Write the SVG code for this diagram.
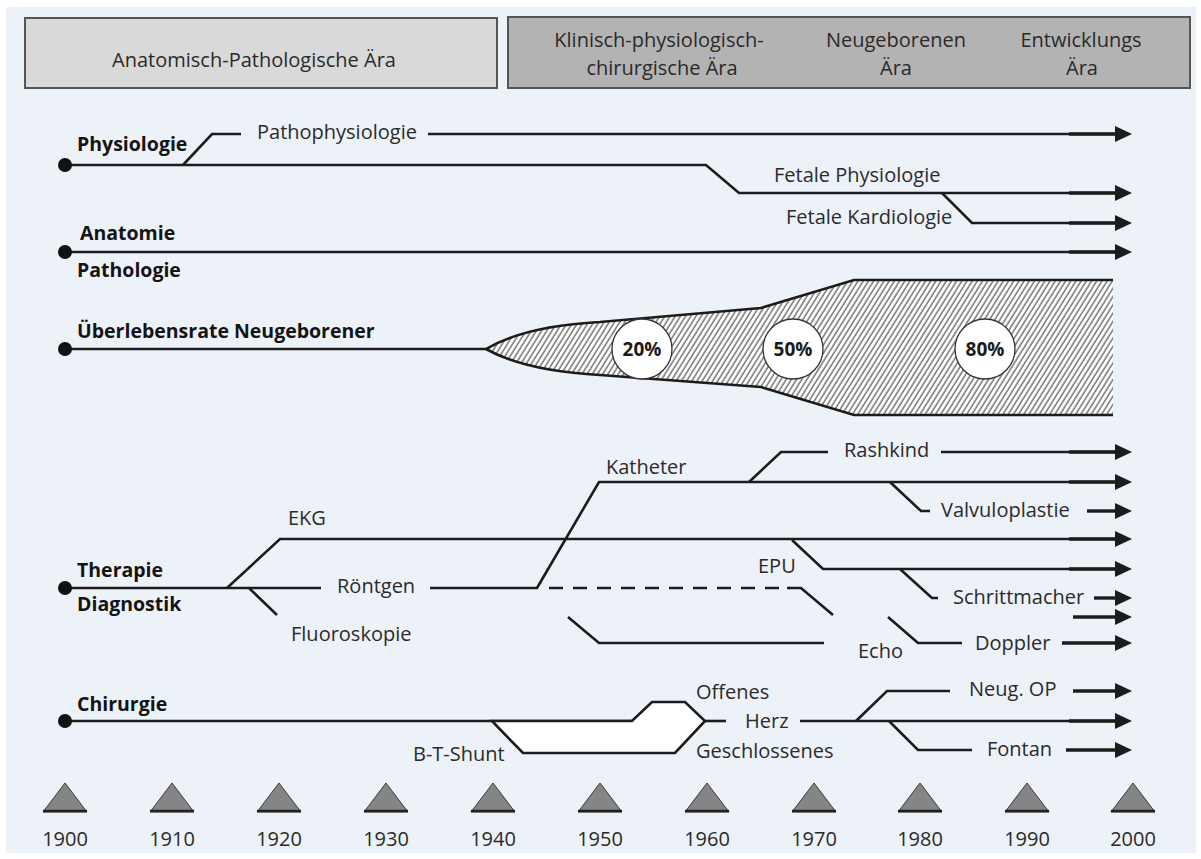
<svg xmlns="http://www.w3.org/2000/svg" width="1201" height="859" viewBox="0 0 1201 859">
<defs>
<style>
.bg{fill:#edf1f8}
.ln{fill:none;stroke:#1c1c1c;stroke-width:2.6;stroke-linejoin:miter}
.ar{fill:none;stroke:#1c1c1c;stroke-width:2.6;marker-end:url(#ah)}
.sa{fill:none;stroke:#1c1c1c;stroke-width:3.4;marker-end:url(#ah)}
.st{fill:none;stroke:#1c1c1c;stroke-width:3.6}
.ds{fill:none;stroke:#1c1c1c;stroke-width:2.6;stroke-dasharray:14 10}
.dot{fill:#111}
.t{font-family:"Open Sans","Noto Sans","Liberation Sans",sans-serif;font-size:20px;fill:#2b2b2b}
.b{font-family:"Open Sans","Noto Sans","Liberation Sans",sans-serif;font-size:19.5px;font-weight:700;fill:#141414}
.h{font-family:"Open Sans","Noto Sans","Liberation Sans",sans-serif;font-size:20px;fill:#2a2a2a;text-anchor:middle}
.p{font-family:"Open Sans","Noto Sans","Liberation Sans",sans-serif;font-size:19px;font-weight:700;fill:#1a1a1a;text-anchor:middle}
.y{font-family:"Open Sans","Noto Sans","Liberation Sans",sans-serif;font-size:20px;fill:#2a2a2a;text-anchor:middle}
.tri{fill:#858585;stroke:#3a3a3a;stroke-width:1}
.tb{stroke:#222;stroke-width:2.6}
.circ{fill:#fff;stroke:#333;stroke-width:1.3}
</style>
<marker id="ah" markerUnits="userSpaceOnUse" markerWidth="18" markerHeight="18" viewBox="0 -9 18 18" refX="0" refY="0" orient="auto">
<path d="M0,-8 L17,0 L0,8 Z" fill="#1c1c1c"/>
</marker>
<pattern id="hatch" patternUnits="userSpaceOnUse" width="4.4" height="10" patternTransform="rotate(32)">
<rect width="4.4" height="10" fill="#ffffff"/>
<line x1="1" y1="0" x2="1" y2="10" stroke="#555" stroke-width="1.2"/>
</pattern>
</defs>

<rect class="bg" x="6" y="7" width="1190" height="846"/>

<g id="header">
<g id="era-anatomisch">
<rect x="25" y="18" width="472" height="70" fill="#d9d9d9" stroke="#555" stroke-width="2"/>
<text class="h" x="254" y="67">Anatomisch-Pathologische Ära</text>
</g>
<g id="era-klinisch">
<rect x="508" y="17" width="682" height="71" fill="#b3b3b3" stroke="#555" stroke-width="2"/>
<text class="h" x="659" y="47">Klinisch-physiologisch-</text>
<text class="h" x="662" y="75">chirurgische Ära</text>
<text class="h" x="896" y="47">Neugeborenen</text>
<text class="h" x="896" y="75">Ära</text>
<text class="h" x="1081" y="47">Entwicklungs</text>
<text class="h" x="1082" y="75">Ära</text>
</g>
</g>

<g id="connectors">
<path class="ar" d="M65,165 H706 L739,193 H1115"/>
<path class="st" d="M1069,193 H1116"/>
<path class="ln" d="M183,165 L212,134 H241"/>
<path class="ar" d="M428,134 H1115"/>
<path class="st" d="M1069,134 H1116"/>
<path class="ar" d="M942,193 L972,223 H1115"/>
<path class="st" d="M1069,223 H1116"/>
<path class="ar" d="M65,252 H1115"/>
<path class="st" d="M1069,252 H1116"/>
<path class="ln" d="M65,349 H487"/>
<path class="ln" d="M65,588 H321"/>
<path class="ln" d="M430,588 H538"/>
<path class="ar" d="M227,588 L280,539 H1115"/>
<path class="st" d="M1069,539 H1116"/>
<path class="ln" d="M249,588 L277,615"/>
<path class="ds" d="M549,588 H790"/>
<path class="ln" d="M787,588 H801 L833,615"/>
<path class="ar" d="M537,588 L599,482 H1115"/>
<path class="st" d="M1069,482 H1116"/>
<path class="ln" d="M749,482 L781,452 H828"/>
<path class="ar" d="M941,452 H1115"/>
<path class="st" d="M1069,452 H1116"/>
<path class="ln" d="M890,482 L921,511 H930"/>
<path class="sa" d="M1087,511 H1115"/>
<path class="ar" d="M792,540 L823,569 H1115"/>
<path class="st" d="M1069,569 H1116"/>
<path class="ln" d="M900,569 L932,598 H938"/>
<path class="sa" d="M1094,598 H1115"/>
<path class="sa" d="M1073,617 H1115"/>
<path class="ln" d="M568,617 L599,643 H824"/>
<path class="ln" d="M888,617 L918,643 H962"/>
<path class="sa" d="M1062,643 H1115"/>
<path class="ln" d="M65,721 H632"/>
<path class="ln" d="M705,721 H726"/>
<path class="ar" d="M800,721 H1115"/>
<path class="st" d="M1069,721 H1116"/>
<path class="ln" d="M856,721 L887,691 H950"/>
<path class="sa" d="M1073,691 H1115"/>
<path class="ln" d="M889,721 L918,750 H972"/>
<path class="sa" d="M1066,750 H1115"/>
</g>

<g id="physiologie">
<circle class="dot" cx="65" cy="165" r="7"/>
<text class="b" x="77" y="151">Physiologie</text>
<text class="t" x="257" y="139">Pathophysiologie</text>
<text class="t" x="774" y="182">Fetale Physiologie</text>
<text class="t" x="786" y="224">Fetale Kardiologie</text>
</g>

<g id="anatomie">
<circle class="dot" cx="65" cy="252" r="7"/>
<text class="b" x="80" y="240">Anatomie</text>
<text class="b" x="77" y="277">Pathologie</text>
</g>

<g id="ueberlebensrate">
<circle class="dot" cx="65" cy="349" r="7"/>
<text class="b" x="77" y="338">Überlebensrate Neugeborener</text>
<path d="M486,349 Q525,326 600,322 L761,308 L854,280 H1113 V415 H854 L761,387 L600,375 Q525,371 486,349 Z" fill="url(#hatch)"/>
<path class="ln" d="M486,349 Q525,326 600,322 L761,308 L854,280 H1113"/>
<path class="ln" d="M486,349 Q525,371 600,375 L761,387 L854,415 H1113"/>
<circle class="circ" cx="642" cy="349" r="30"/>
<circle class="circ" cx="793" cy="349" r="30"/>
<circle class="circ" cx="985" cy="349" r="30"/>
<text class="p" x="642" y="356">20%</text>
<text class="p" x="793" y="356">50%</text>
<text class="p" x="985" y="356">80%</text>
</g>

<g id="therapie">
<circle class="dot" cx="65" cy="588" r="7"/>
<text class="b" x="77" y="577">Therapie</text>
<text class="b" x="77" y="611">Diagnostik</text>
<text class="t" x="288" y="525">EKG</text>
<text class="t" x="337" y="593">Röntgen</text>
<text class="t" x="291" y="641">Fluoroskopie</text>
<text class="t" x="606" y="474">Katheter</text>
<text class="t" x="844" y="457">Rashkind</text>
<text class="t" x="941" y="517">Valvuloplastie</text>
<text class="t" x="758" y="573">EPU</text>
<text class="t" x="953" y="604">Schrittmacher</text>
<text class="t" x="858" y="658">Echo</text>
<text class="t" x="975" y="650">Doppler</text>
</g>

<g id="chirurgie">
<circle class="dot" cx="65" cy="721" r="7"/>
<text class="b" x="77" y="711">Chirurgie</text>
<path d="M492,721 L523,753 H675 L705,721 L685,702 H652 L632,721 Z" fill="#ffffff" stroke="#1c1c1c" stroke-width="2.6"/>
<text class="t" x="413" y="761">B-T-Shunt</text>
<text class="t" x="696" y="699">Offenes</text>
<text class="t" x="745" y="728">Herz</text>
<text class="t" x="696" y="758">Geschlossenes</text>
<text class="t" x="969" y="696">Neug. OP</text>
<text class="t" x="987" y="756">Fontan</text>
</g>

<g id="timeline">
<g id="y1900"><polygon class="tri" points="43,812 65,783 87,812"/><line class="tb" x1="43" y1="811" x2="87" y2="811"/><text class="y" x="65" y="846">1900</text></g>
<g id="y1910"><polygon class="tri" points="150,812 172,783 194,812"/><line class="tb" x1="150" y1="811" x2="194" y2="811"/><text class="y" x="172" y="846">1910</text></g>
<g id="y1920"><polygon class="tri" points="257,812 279,783 301,812"/><line class="tb" x1="257" y1="811" x2="301" y2="811"/><text class="y" x="279" y="846">1920</text></g>
<g id="y1930"><polygon class="tri" points="364,812 386,783 408,812"/><line class="tb" x1="364" y1="811" x2="408" y2="811"/><text class="y" x="386" y="846">1930</text></g>
<g id="y1940"><polygon class="tri" points="471,812 493,783 515,812"/><line class="tb" x1="471" y1="811" x2="515" y2="811"/><text class="y" x="493" y="846">1940</text></g>
<g id="y1950"><polygon class="tri" points="578,812 600,783 622,812"/><line class="tb" x1="578" y1="811" x2="622" y2="811"/><text class="y" x="600" y="846">1950</text></g>
<g id="y1960"><polygon class="tri" points="685,812 707,783 729,812"/><line class="tb" x1="685" y1="811" x2="729" y2="811"/><text class="y" x="707" y="846">1960</text></g>
<g id="y1970"><polygon class="tri" points="792,812 814,783 836,812"/><line class="tb" x1="792" y1="811" x2="836" y2="811"/><text class="y" x="814" y="846">1970</text></g>
<g id="y1980"><polygon class="tri" points="898,812 920,783 942,812"/><line class="tb" x1="898" y1="811" x2="942" y2="811"/><text class="y" x="920" y="846">1980</text></g>
<g id="y1990"><polygon class="tri" points="1005,812 1027,783 1049,812"/><line class="tb" x1="1005" y1="811" x2="1049" y2="811"/><text class="y" x="1027" y="846">1990</text></g>
<g id="y2000"><polygon class="tri" points="1111,812 1133,783 1155,812"/><line class="tb" x1="1111" y1="811" x2="1155" y2="811"/><text class="y" x="1133" y="846">2000</text></g>
</g>
</svg>
